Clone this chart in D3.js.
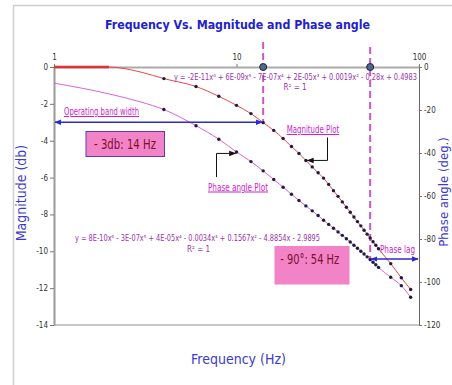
<!DOCTYPE html>
<html>
<head>
<meta charset="utf-8">
<script src="https://cdn.jsdelivr.net/npm/d3@7"></script>
<style>
  html, body { margin: 0; padding: 0; background: #fff; }
  svg { display: block; font-family: Tahoma, "DejaVu Sans Condensed", "Liberation Sans", Arial, sans-serif; }
</style>
</head>
<body>
<svg id="chart" width="452" height="385"></svg>
<script>
// Low-frequency part of each curve (drawn as line only, no markers)
const lineOnlyFreq  = [1, 2, 3];
const lineOnlyMag   = [0, 0, -0.28];
const lineOnlyPhase = [-7.5, -12.5, -16.3];

// Measured points (Hz)
const freq = [4, 6, 8, 10, 12, 14, 16, 18, 20, 22, 24, 26, 28, 30, 32, 34, 36, 38, 40,
              42, 44, 46, 48, 50, 52, 54, 56, 58, 60, 70, 80, 90];
// Magnitude (dB)
const magnitude = [-0.63, -1.06, -1.59, -2.08, -2.53, -3.02, -3.44, -3.88, -4.31, -4.69,
                   -5.07, -5.42, -5.74, -6.03, -6.37, -6.71, -7.02, -7.32, -7.61, -7.88,
                   -8.14, -8.39, -8.62, -8.86, -9.07, -9.28, -9.48, -9.67, -9.86,
                   -10.67, -11.44, -12.07];
// Phase angle (deg.)
const phase = [-19.8, -27.3, -33.6, -39.5, -44.0, -48.3, -52.3, -55.9, -59.2, -62.1,
               -64.6, -66.9, -69.1, -71.3, -73.2, -75.0, -76.7, -78.3, -79.9, -81.4,
               -82.9, -84.3, -85.7, -87.0, -88.3, -89.6, -90.8, -92.0, -93.2,
               -97.8, -101.7, -107.1];

// Axis ticks
const freqTicks  = [1, 10, 100];
const magTicks   = [0, -2, -4, -6, -8, -10, -12, -14];
const phaseTicks = [0, -20, -40, -60, -80, -100, -120];

// Reference points called out on the chart
const cutoffFreq = 14, cutoffMag = -3;     // -3 dB point
const lagFreq = 54, lagPhase = -90;        // -90 degree point
const magCalloutFreq = 24;                 // point the "Magnitude Plot" arrow targets
const phaseCalloutFreq = 10;               // point the "Phase angle Plot" arrow targets

// Trendline equations
const magEquation   = "y = -2E-11x\u2076 + 6E-09x\u2075 - 7E-07x\u2074 + 2E-05x\u00b3 + 0.0019x\u00b2 - 0.28x + 0.4983";
const phaseEquation = "y = 8E-10x\u2076 - 3E-07x\u2075 + 4E-05x\u2074 - 0.0034x\u00b3 + 0.1567x\u00b2 - 4.8854x - 2.9895";

const svg = d3.select("#chart");
const W = 452, H = 385;
const plot = { left: 54, right: 419, top: 67, bottom: 325 };

const x = d3.scaleLog().domain([1, 100]).range([plot.left, plot.right]);
const yMag = d3.scaleLinear().domain([-14, 0]).range([plot.bottom, plot.top]);
const yPh  = d3.scaleLinear().domain([-120, 0]).range([plot.bottom, plot.top]);

// Arrow markers
const defs = svg.append("defs");
function arrowMarker(id, color, orient) {
  defs.append("marker")
    .attr("id", id).attr("viewBox", "0 0 10 10")
    .attr("refX", 9).attr("refY", 5)
    .attr("markerWidth", 7).attr("markerHeight", 7)
    .attr("markerUnits", "userSpaceOnUse")
    .attr("orient", orient)
    .append("path").attr("d", "M0,1 L10,5 L0,9 z").attr("fill", color);
}
arrowMarker("blueEnd", "#2b2bd0", "auto");
arrowMarker("blueStart", "#2b2bd0", "auto-start-reverse");
arrowMarker("blackEnd", "#111", "auto");

// Outer chart frame
svg.append("path")
  .attr("d", `M13.5,${H} V5.5 H${W}`)
  .attr("fill", "none").attr("stroke", "#cfcfcf").attr("stroke-width", 1.5);

// Title
svg.append("text")
  .attr("x", 237.5).attr("y", 29)
  .attr("text-anchor", "middle")
  .attr("font-size", 13).attr("font-weight", "bold")
  .attr("fill", "#2222cc")
  .attr("textLength", 265).attr("lengthAdjust", "spacingAndGlyphs")
  .text("Frequency Vs. Magnitude and Phase angle");

// Bottom border of plot area
svg.append("line")
  .attr("x1", plot.left).attr("x2", plot.right)
  .attr("y1", plot.bottom).attr("y2", plot.bottom)
  .attr("stroke", "#b4b4b4").attr("stroke-width", 1.5);

// Axes
function styleAxis(g, domainColor, domainWidth) {
  g.selectAll(".domain").attr("stroke", domainColor).attr("stroke-width", domainWidth);
  g.selectAll(".tick line").attr("stroke", "#777");
  g.selectAll(".tick text").attr("fill", "#333").attr("font-size", 8)
    .attr("font-family", "Tahoma, 'DejaVu Sans Condensed', 'Liberation Sans', Arial, sans-serif");
}

const gTop = svg.append("g").attr("transform", `translate(0,${plot.top})`)
  .call(d3.axisTop(x).tickValues(freqTicks).tickFormat(d => String(d))
    .tickSize(3).tickSizeOuter(0).tickPadding(4));
styleAxis(gTop, "#aaa", 2);

const gLeft = svg.append("g").attr("transform", `translate(${plot.left},0)`)
  .call(d3.axisLeft(yMag).tickValues(magTicks).tickFormat(d => String(d))
    .tickSize(4).tickSizeOuter(0).tickPadding(2));
styleAxis(gLeft, "#999", 2);

const gRight = svg.append("g").attr("transform", `translate(${plot.right},0)`)
  .call(d3.axisRight(yPh).tickValues(phaseTicks).tickFormat(d => String(d))
    .tickSize(3).tickSizeOuter(0).tickPadding(2));
styleAxis(gRight, "#666", 1);

// Axis titles
svg.append("text")
  .attr("transform", "translate(26,193) rotate(-90)")
  .attr("text-anchor", "middle").attr("font-size", 14)
  .attr("fill", "#3a3acc").text("Magnitude (db)");
svg.append("text")
  .attr("transform", "translate(448,192) rotate(-90)")
  .attr("text-anchor", "middle").attr("font-size", 13)
  .attr("fill", "#3a3acc").text("Phase angle (deg.)");
svg.append("text")
  .attr("x", 238.5).attr("y", 364)
  .attr("text-anchor", "middle").attr("font-size", 14)
  .attr("fill", "#3a3acc").text("Frequency (Hz)");

// Series data
const magAll = lineOnlyFreq.map((f, i) => ({ f, v: lineOnlyMag[i] }))
  .concat(freq.map((f, i) => ({ f, v: magnitude[i] })));
const phAll = lineOnlyFreq.map((f, i) => ({ f, v: lineOnlyPhase[i] }))
  .concat(freq.map((f, i) => ({ f, v: phase[i] })));

const magLine = d3.line().x(d => x(d.f)).y(d => yMag(d.v)).curve(d3.curveMonotoneX);
const phLine  = d3.line().x(d => x(d.f)).y(d => yPh(d.v)).curve(d3.curveMonotoneX);

// Flat low-frequency magnitude segment
svg.append("path")
  .attr("d", magLine(magAll.filter(d => d.f <= 2)))
  .attr("fill", "none").attr("stroke", "#d02020").attr("stroke-width", 2.5);

svg.append("path")
  .attr("d", magLine(magAll))
  .attr("fill", "none").attr("stroke", "#e84848").attr("stroke-width", 1);
svg.append("path")
  .attr("d", phLine(phAll))
  .attr("fill", "none").attr("stroke", "#e060e0").attr("stroke-width", 1);

// Dashed marker lines at the -3 dB and -90 degree frequencies
svg.append("line")
  .attr("x1", x(cutoffFreq)).attr("x2", x(cutoffFreq))
  .attr("y1", 42).attr("y2", yMag(cutoffMag))
  .attr("stroke", "#cc55cc").attr("stroke-width", 2).attr("stroke-dasharray", "7,4");
svg.append("line")
  .attr("x1", x(lagFreq)).attr("x2", x(lagFreq))
  .attr("y1", 47).attr("y2", yPh(lagPhase))
  .attr("stroke", "#cc55cc").attr("stroke-width", 2).attr("stroke-dasharray", "7,4");

[cutoffFreq, lagFreq].forEach(f => {
  svg.append("circle")
    .attr("cx", x(f)).attr("cy", plot.top).attr("r", 3.5)
    .attr("fill", "#4d6a8c").attr("stroke", "#223").attr("stroke-width", 1);
});

// Trendline equations
svg.append("text")
  .attr("x", 174).attr("y", 79.5).attr("font-size", 8).attr("fill", "#9933aa")
  .attr("textLength", 243).attr("lengthAdjust", "spacingAndGlyphs")
  .text(magEquation);
svg.append("text")
  .attr("x", 295).attr("y", 90).attr("text-anchor", "middle")
  .attr("font-size", 8).attr("fill", "#9933aa").text("R\u00b2 = 1");
svg.append("text")
  .attr("x", 75).attr("y", 241).attr("font-size", 8).attr("fill", "#9933aa")
  .attr("textLength", 245).attr("lengthAdjust", "spacingAndGlyphs")
  .text(phaseEquation);
svg.append("text")
  .attr("x", 198.5).attr("y", 252).attr("text-anchor", "middle")
  .attr("font-size", 8).attr("fill", "#9933aa").text("R\u00b2 = 1");

// Markers on measured points
svg.append("g").selectAll("circle")
  .data(freq.map((f, i) => ({ f, v: magnitude[i] })))
  .join("circle")
  .attr("cx", d => x(d.f)).attr("cy", d => yMag(d.v)).attr("r", 1.7)
  .attr("fill", "#1c1c40");
svg.append("g").selectAll("circle")
  .data(freq.map((f, i) => ({ f, v: phase[i] })))
  .join("circle")
  .attr("cx", d => x(d.f)).attr("cy", d => yPh(d.v)).attr("r", 1.7)
  .attr("fill", "#1c1c40");

// Operating band width arrow (to the -3 dB frequency)
svg.append("line")
  .attr("x1", plot.left + 1).attr("x2", x(cutoffFreq) - 1)
  .attr("y1", yMag(cutoffMag)).attr("y2", yMag(cutoffMag))
  .attr("stroke", "#2b2bd0").attr("stroke-width", 1.5)
  .attr("marker-start", "url(#blueStart)").attr("marker-end", "url(#blueEnd)");
svg.append("text")
  .attr("x", 64).attr("y", 115).attr("font-size", 10).attr("fill", "#cc22cc")
  .attr("text-decoration", "underline")
  .attr("textLength", 75).attr("lengthAdjust", "spacingAndGlyphs")
  .text("Operating band width");

// Phase lag arrow (from the -90 degree frequency to the right axis)
svg.append("line")
  .attr("x1", x(lagFreq) + 1).attr("x2", plot.right - 1)
  .attr("y1", yPh(lagPhase) - 1.5).attr("y2", yPh(lagPhase) - 1.5)
  .attr("stroke", "#2b2bd0").attr("stroke-width", 1.5)
  .attr("marker-start", "url(#blueStart)").attr("marker-end", "url(#blueEnd)");
svg.append("text")
  .attr("x", 380).attr("y", 253).attr("font-size", 10).attr("fill", "#cc22cc")
  .attr("textLength", 35).attr("lengthAdjust", "spacingAndGlyphs")
  .text("Phase lag");

// Value boxes
svg.append("rect")
  .attr("x", 86).attr("y", 131.5).attr("width", 78.5).attr("height", 25)
  .attr("fill", "#f283c6").attr("stroke", "#5a3acc").attr("stroke-width", 1);
svg.append("text")
  .attr("x", 125).attr("y", 149.3).attr("text-anchor", "middle")
  .attr("font-size", 13.5).attr("fill", "#7a1030")
  .attr("textLength", 62).attr("lengthAdjust", "spacingAndGlyphs")
  .text("- 3db: " + cutoffFreq + " Hz");

svg.append("rect")
  .attr("x", 274.5).attr("y", 246).attr("width", 75).attr("height", 38.5)
  .attr("fill", "#f283c6");
svg.append("text")
  .attr("x", 309.7).attr("y", 264).attr("text-anchor", "middle")
  .attr("font-size", 14.5).attr("fill", "#7a1030")
  .attr("textLength", 59).attr("lengthAdjust", "spacingAndGlyphs")
  .text("- 90\u00b0: " + lagFreq + " Hz");

// Callout labels with elbow arrows
const magTarget = { f: magCalloutFreq, v: magnitude[freq.indexOf(magCalloutFreq)] };
const phTarget  = { f: phaseCalloutFreq, v: phase[freq.indexOf(phaseCalloutFreq)] };

svg.append("text")
  .attr("x", 286.7).attr("y", 133).attr("font-size", 10).attr("fill", "#cc22cc")
  .attr("text-decoration", "underline")
  .attr("textLength", 52.5).attr("lengthAdjust", "spacingAndGlyphs")
  .text("Magnitude Plot");
svg.append("path")
  .attr("d", `M327.5,137.5 V${yMag(magTarget.v)} H${x(magTarget.f) + 1.5}`)
  .attr("fill", "none").attr("stroke", "#111").attr("stroke-width", 1)
  .attr("marker-end", "url(#blackEnd)");

svg.append("text")
  .attr("x", 208).attr("y", 190.5).attr("font-size", 10).attr("fill", "#cc22cc")
  .attr("text-decoration", "underline")
  .attr("textLength", 60).attr("lengthAdjust", "spacingAndGlyphs")
  .text("Phase angle Plot");
svg.append("path")
  .attr("d", `M216.5,177 V${yPh(phTarget.v) + 1.5} H${x(phTarget.f) - 1}`)
  .attr("fill", "none").attr("stroke", "#111").attr("stroke-width", 1)
  .attr("marker-end", "url(#blackEnd)");
</script>
</body>
</html>
